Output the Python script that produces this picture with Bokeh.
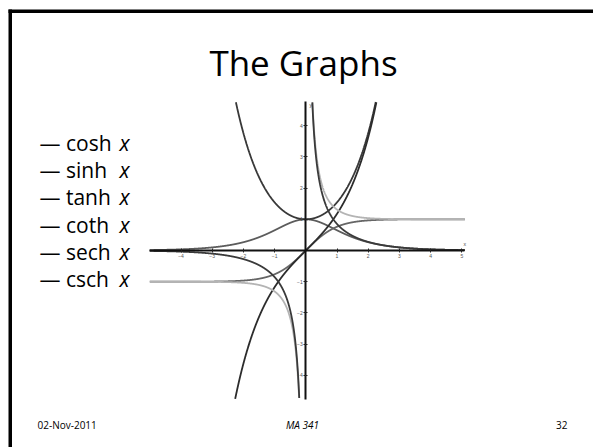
import numpy as np
from bokeh.plotting import figure
from bokeh.models import Range1d, FixedTicker, BoxAnnotation
from bokeh.embed import file_html
from bokeh.resources import INLINE
from bokeh.core.properties import value

# ---- data ----
func_names = ["cosh", "sinh", "tanh", "coth", "sech", "csch"]
draw_order = ["sech", "tanh", "cosh", "sinh", "coth", "csch"]
curve_colors = {"cosh": "#383838", "sinh": "#2c2c2c", "tanh": "#666666",
                "coth": "#b4b4b4", "sech": "#5c5c5c", "csch": "#3a3a3a"}
funcs = {"cosh": np.cosh, "sinh": np.sinh, "tanh": np.tanh,
         "coth": lambda t: 1.0 / np.tanh(t), "sech": lambda t: 1.0 / np.cosh(t),
         "csch": lambda t: 1.0 / np.sinh(t)}
x_ticks = [-4, -3, -2, -1, 1, 2, 3, 4, 5]
y_ticks = [-4, -3, -2, -1, 1, 2, 3, 4]
x_lo, x_hi = -5.0, 5.1
y_lo, y_hi = -4.76, 4.76
title_text = "The Graphs"
footer_left, footer_mid, footer_right = "02-Nov-2011", "MA 341", "32"

# ---- layout (page pixel positions) ----
W, H = 593, 447
UNIT = 31.2
ox, oy = 305.3, 250.0
xs, xe = -ox / UNIT, (W - ox) / UNIT
ys, ye = -(H - oy) / UNIT, oy / UNIT

def px(v):
    return xs + v / UNIT

def py(v):
    return ye - v / UNIT

p = figure(width=W, height=H, output_backend="svg", toolbar_location=None,
           x_range=Range1d(xs, xe), y_range=Range1d(ys, ye), min_border=0)
p.outline_line_color = None
p.grid.visible = False
p.background_fill_color = "white"
p.border_fill_color = "white"

for ax, ticks, b in ((p.xaxis, x_ticks, (x_lo, x_hi)), (p.yaxis, y_ticks, (y_lo, y_hi))):
    ax.fixed_location = 0
    ax.bounds = b
    ax.ticker = FixedTicker(ticks=ticks)
    ax.axis_line_width = 2
    ax.axis_line_color = "#111111"
    ax.major_tick_in = 2
    ax.major_tick_out = 2
    ax.major_tick_line_color = "#222222"
    ax.minor_tick_line_color = None
    ax.major_label_text_font_size = "5px"
    ax.major_label_text_color = "#555555"
    ax.major_label_standoff = 1

grid = np.linspace(x_lo, x_hi, 4001)
for name in draw_order:
    for side in (grid[grid < 0], grid[grid > 0]):
        yv = funcs[name](side)
        keep = np.abs(yv) <= y_hi
        if keep.sum() < 2:
            continue
        p.line(side[keep], yv[keep], line_color=curve_colors[name], line_width=1.8)

p.text([x_hi], [0.12], text=["x"], text_font_size="5px", text_color="#444444",
       text_align="center", text_baseline="bottom", text_font=value("Open Sans"))
p.text([0.12], [y_hi], text=["y"], text_font_size="5px", text_color="#444444",
       text_align="left", text_baseline="top", text_font=value("Open Sans"))

# slide frame: left and top edges only
p.add_layout(BoxAnnotation(left=px(8), right=px(11.5), top=py(9), bottom=None,
                           fill_color="black", fill_alpha=1.0, line_color=None))
p.add_layout(BoxAnnotation(left=px(8), right=None, top=py(9), bottom=py(12.5),
                           fill_color="black", fill_alpha=1.0, line_color=None))

# title
p.text([px(303)], [py(62)], text=[title_text], text_font=value("Open Sans"),
       text_font_size="35px", text_align="center", text_baseline="middle", text_color="black")

# legend rows
row_y = [142, 169, 196, 224, 251, 278]
for name, ry in zip(func_names, row_y):
    p.text([px(39)], [py(ry)], text=["\u2014 " + name], text_font=value("Open Sans"),
           text_font_size="21px", text_align="left", text_baseline="middle", text_color="black")
    p.text([px(119)], [py(ry)], text=["x"], text_font=value("Open Sans"),
           text_font_style="italic", text_font_size="21px", text_align="left",
           text_baseline="middle", text_color="black")

# footer
p.text([px(37)], [py(424)], text=[footer_left], text_font=value("Open Sans"),
       text_font_size="10px", text_align="left", text_baseline="middle", text_color="black")
p.text([px(302)], [py(424)], text=[footer_mid], text_font=value("Open Sans"),
       text_font_style="italic", text_font_size="10px", text_align="center",
       text_baseline="middle", text_color="black")
p.text([px(567)], [py(424)], text=[footer_right], text_font=value("Open Sans"),
       text_font_size="10px", text_align="right", text_baseline="middle", text_color="black")

open("out.html", "w").write(file_html(p, INLINE))
